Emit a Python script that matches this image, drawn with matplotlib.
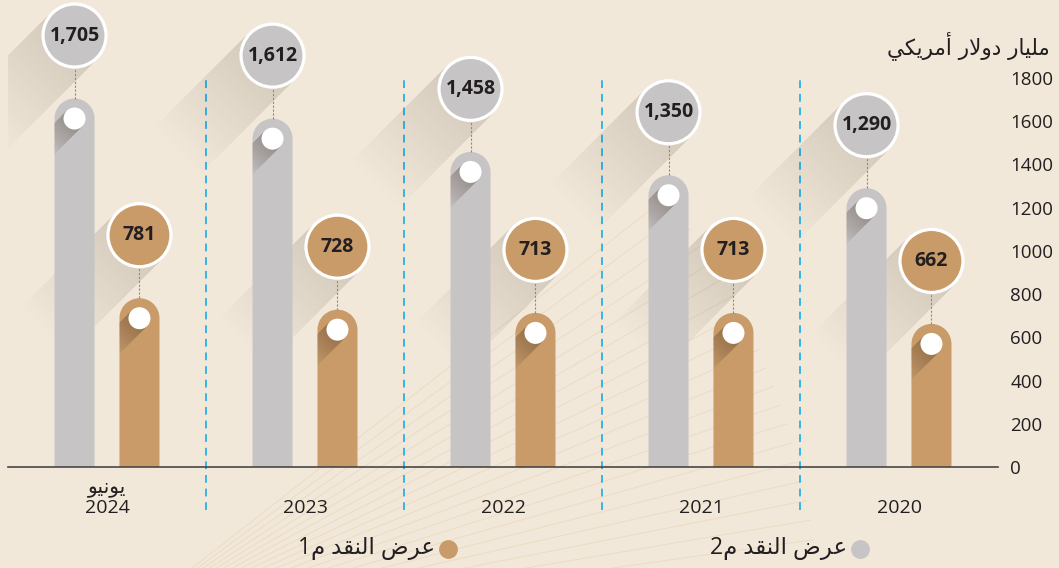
import numpy as np
import matplotlib
matplotlib.use('Agg')
import matplotlib.pyplot as plt
from matplotlib.patches import Circle, PathPatch, Polygon
from matplotlib.path import Path
from matplotlib.transforms import IdentityTransform
from matplotlib.lines import Line2D

# ---- data ----
periods_ar = ['يونيو', '', '', '', '']
periods_year = ['2024', '2023', '2022', '2021', '2020']
m2_values = [1705, 1612, 1458, 1350, 1290]   # عرض النقد م2
m1_values = [781, 728, 713, 713, 662]        # عرض النقد م1
y_ticks = [0, 200, 400, 600, 800, 1000, 1200, 1400, 1600, 1800]
y_title = 'مليار دولار أمريكي'
legend_m1 = 'عرض النقد م1'
legend_m2 = 'عرض النقد م2'

# ---- simple arabic shaping (matplotlib has no bidi / joining) ----
FORMS = {
    'ا': ('\uFE8D', '\uFE8E', None, None),
    'أ': ('\uFE83', '\uFE84', None, None),
    'د': ('\uFEA9', '\uFEAA', None, None),
    'ر': ('\uFEAD', '\uFEAE', None, None),
    'و': ('\uFEED', '\uFEEE', None, None),
    'ي': ('\uFEF1', '\uFEF2', '\uFEF3', '\uFEF4'),
    'ك': ('\uFED9', '\uFEDA', '\uFEDB', '\uFEDC'),
    'ل': ('\uFEDD', '\uFEDE', '\uFEDF', '\uFEE0'),
    'م': ('\uFEE1', '\uFEE2', '\uFEE3', '\uFEE4'),
    'ن': ('\uFEE5', '\uFEE6', '\uFEE7', '\uFEE8'),
    'ع': ('\uFEC9', '\uFECA', '\uFECB', '\uFECC'),
    'ض': ('\uFEBD', '\uFEBE', '\uFEBF', '\uFEC0'),
    'ق': ('\uFED5', '\uFED6', '\uFED7', '\uFED8'),
}
LAM_ALEF = {'ا': ('\uFEFB', '\uFEFC', None, None),
            'أ': ('\uFEF7', '\uFEF8', None, None)}


def shape_ar(text):
    tokens = []
    i = 0
    while i < len(text):
        c = text[i]
        if c == 'ل' and i + 1 < len(text) and text[i + 1] in LAM_ALEF:
            tokens.append(('', LAM_ALEF[text[i + 1]]))
            i += 2
        else:
            tokens.append((c, FORMS.get(c)))
            i += 1
    res = []
    for k, (c, f) in enumerate(tokens):
        if f is None:
            res.append(c)
            continue
        prev = tokens[k - 1][1] if k > 0 else None
        nxt = tokens[k + 1][1] if k + 1 < len(tokens) else None
        jp = prev is not None and prev[2] is not None
        jn = f[2] is not None and nxt is not None
        idx = 3 if (jp and jn) else 1 if jp else 2 if jn else 0
        res.append(f[idx])
    return ''.join(reversed(res))


# ---- style ----
BG = '#f1e8da'
GRAY = '#c7c4c6'
TAN = '#c89b69'
TXT = '#231f20'
FONT = ['Open Sans', 'DejaVu Sans']
plt.rcParams['font.family'] = FONT

W, H = 1059, 568
fig = plt.figure(figsize=(W / 100, H / 100), dpi=100, facecolor=BG)
ax = fig.add_axes([8 / W, (H - 467) / H, 990 / W, 467 / H])
ax.set_xlim(-0.5, 4.5)
ax.set_ylim(0, 1800 * 467 / 389)
ax.patch.set_alpha(0)
for s in ['top', 'left', 'right']:
    ax.spines[s].set_visible(False)
ax.spines['bottom'].set_color('#4a4646')
ax.spines['bottom'].set_linewidth(1.2)
ax.spines['bottom'].set_zorder(3)

ax.yaxis.tick_right()
ax.set_yticks(y_ticks)
ax.set_yticklabels([str(t) for t in y_ticks])
ax.tick_params(axis='y', length=0, pad=9, labelsize=13.5, labelcolor=TXT)

x = np.arange(len(periods_year))
ax.set_xticks(x)
ax.set_xticklabels(periods_year)
ax.tick_params(axis='x', length=0, pad=23, labelsize=14, labelcolor=TXT)
# arabic month line above the year (DejaVu has the glyphs)
for xi, a in zip(x, periods_ar):
    if a:
        ax.annotate(shape_ar(a), (xi, 0), xytext=(0, -15), textcoords='offset points',
                    ha='center', va='center', fontsize=14.5, color=TXT,
                    family=['DejaVu Sans'], annotation_clip=False)

# dashed dividers between periods
ax.vlines(x[:-1] + 0.5, -200, 1805, colors='#36b5e5', lw=1.4,
          linestyles=(0, (4, 3)), clip_on=False, zorder=1)

# decorative radiating lines (background paper)
fx, fy = 100, H - 640
for ang in np.linspace(8, 38, 20):
    a = np.radians(ang)
    fig.add_artist(Line2D([fx, fx + 720 * np.cos(a)], [fy, fy + 720 * np.sin(a)],
                          transform=IdentityTransform(), color='#dcb87e',
                          lw=0.7, alpha=0.25, zorder=-5))

fig.canvas.draw()
tr = ax.transData
BAR_W = 40      # px
CIRC_R = 31.5   # px
CIRC_OFF = 63   # px above bar top
DOT_R = 11
SH_DIR = np.array([-1.0, -1.0]) / np.sqrt(2)
SH_N = np.array([1.0, -1.0]) / np.sqrt(2)


def band(c, r, length):
    p1 = c + r * SH_N
    p2 = c - r * SH_N
    return [p1, p1 + length * SH_DIR, p2 + length * SH_DIR, p2]


def pill(xc, top, bottom, w):
    r = w / 2
    cy = top - r
    arc = Path.arc(0, 180)
    av = arc.vertices * r + [xc, cy]
    verts = [(xc + r, bottom), (xc + r, cy)] + [tuple(v) for v in av[1:]] + \
            [(xc - r, bottom), (xc + r, bottom)]
    codes = [Path.MOVETO, Path.LINETO] + list(arc.codes[1:]) + [Path.LINETO, Path.CLOSEPOLY]
    return Path(verts, codes)


for series, color, off in [(m2_values, GRAY, -0.164), (m1_values, TAN, 0.164)]:
    for xi, v in zip(x, series):
        xc, top = tr.transform((xi + off, v))
        _, bottom = tr.transform((xi + off, 0))
        patch = PathPatch(pill(xc, top, bottom, BAR_W), transform=IdentityTransform(),
                          facecolor=color, edgecolor='none', zorder=2)
        ax.add_artist(patch)

        # white dot in the cap + its shadow clipped to the bar
        dc = np.array([xc, top - BAR_W / 2])
        for k in range(1, 17):
            sh = Polygon(band(dc, DOT_R, 2.6 * k), closed=True, transform=IdentityTransform(),
                         facecolor='#3a2a1a', edgecolor='none', alpha=0.024, zorder=3)
            ax.add_artist(sh)
            sh.set_clip_path(patch)
        ax.add_artist(Circle(dc, DOT_R, transform=IdentityTransform(),
                             facecolor='white', edgecolor='none', zorder=4))

        # label circle + long shadow
        cc = np.array([xc, top + CIRC_OFF])
        for k in range(1, 31):
            ax.add_artist(Polygon(band(cc, CIRC_R + 1.5, 4.5 * k), closed=True,
                                  transform=IdentityTransform(), facecolor='#4a3a2a',
                                  edgecolor='none', alpha=0.0045, zorder=1.5))
        ax.add_artist(Line2D([xc, xc], [top, cc[1] - CIRC_R], transform=IdentityTransform(),
                             color='#b5814f', lw=0.8, dashes=(2, 1.5), zorder=2.5))
        ax.add_artist(Circle(cc, CIRC_R, transform=IdentityTransform(), facecolor=color,
                             edgecolor='white', lw=2.3, zorder=5))
        ax.text(cc[0], cc[1], f'{v:,}', transform=IdentityTransform(), ha='center',
                va='center', fontsize=14, fontweight='bold', color=TXT, zorder=6)

# axis title (top right)
fig.text(1050 / W, 1 - 46 / H, shape_ar(y_title), ha='right', va='center',
         fontsize=15.5, color=TXT, family=['DejaVu Sans'])

# legend (RTL: marker on the right of the text)
for txt, color, dot_x in [(legend_m1, TAN, 448), (legend_m2, GRAY, 860)]:
    fig.add_artist(Line2D([dot_x / W], [1 - 549 / H], transform=fig.transFigure,
                          marker='o', markersize=12.5, color=color, lw=0))
    fig.text((dot_x - 13) / W, 1 - 548 / H, shape_ar(txt), ha='right', va='center',
             fontsize=16.5, color=TXT, family=['Open Sans', 'DejaVu Sans'])

fig.savefig('out.png', dpi=100, facecolor=BG)
